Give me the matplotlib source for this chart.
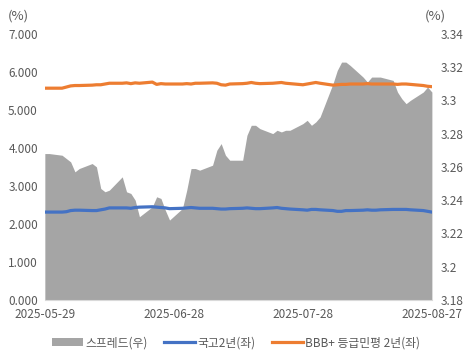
import numpy as np
import pandas as pd
import matplotlib
matplotlib.use('Agg')
import matplotlib.pyplot as plt
import matplotlib.dates as mdates
from matplotlib.ticker import FuncFormatter, MultipleLocator

plt.rcParams['font.family'] = ['Noto Sans CJK KR', 'DejaVu Sans']

# 영업일 (2025-05-29 ~ 2025-08-27)
dates = pd.bdate_range('2025-05-29', '2025-08-27')

spread = [3.268, 3.268, 3.267, 3.265, 3.263, 3.257, 3.259, 3.262, 3.260, 3.247,
          3.245, 3.246, 3.254, 3.245, 3.244, 3.240, 3.230, 3.236, 3.242, 3.241,
          3.234, 3.228, 3.235, 3.246, 3.259, 3.259, 3.258, 3.261, 3.270, 3.274,
          3.267, 3.264, 3.264, 3.279, 3.285, 3.285, 3.283, 3.280, 3.282, 3.281,
          3.282, 3.282, 3.286, 3.288, 3.285, 3.287, 3.290, 3.310, 3.318, 3.323,
          3.323, 3.321, 3.314, 3.311, 3.314, 3.314, 3.314, 3.312, 3.305, 3.301,
          3.298, 3.300, 3.305, 3.308, 3.305]

ktb2y = [2.31, 2.31, 2.31, 2.32, 2.35, 2.36, 2.36, 2.35, 2.35, 2.37,
         2.39, 2.42, 2.42, 2.42, 2.41, 2.43, 2.44, 2.45, 2.44, 2.43,
         2.42, 2.40, 2.41, 2.42, 2.43, 2.42, 2.41, 2.41, 2.40, 2.39,
         2.39, 2.40, 2.41, 2.42, 2.41, 2.40, 2.40, 2.42, 2.43, 2.41,
         2.40, 2.39, 2.37, 2.36, 2.38, 2.38, 2.37, 2.35, 2.33, 2.33,
         2.35, 2.35, 2.36, 2.37, 2.36, 2.36, 2.37, 2.38, 2.38, 2.38,
         2.38, 2.37, 2.35, 2.33, 2.31]

bbb2y = [5.57, 5.57, 5.57, 5.60, 5.63, 5.64, 5.64, 5.65, 5.66, 5.66,
         5.68, 5.70, 5.70, 5.71, 5.69, 5.71, 5.70, 5.73, 5.67, 5.69,
         5.68, 5.68, 5.68, 5.69, 5.68, 5.70, 5.70, 5.71, 5.70, 5.66,
         5.65, 5.68, 5.69, 5.70, 5.72, 5.70, 5.69, 5.70, 5.71, 5.72,
         5.70, 5.69, 5.66, 5.68, 5.70, 5.72, 5.70, 5.65, 5.66, 5.67,
         5.67, 5.68, 5.68, 5.69, 5.68, 5.68, 5.68, 5.68, 5.67, 5.68,
         5.68, 5.67, 5.64, 5.62, 5.61]

xticks = ['2025-05-29', '2025-06-28', '2025-07-28', '2025-08-27']

txt = '#595959'

fig = plt.figure(figsize=(4.72, 3.6), dpi=100)
ax = fig.add_subplot(111)
fig.subplots_adjust(left=0.095, right=0.915, top=0.906, bottom=0.167)
ax2 = ax.twinx()

# 스프레드 영역 (우축)
ax2.fill_between(dates, spread, 3.18, color='#A5A5A5', lw=0, label='스프레드(우)')
ax2.set_ylim(3.18, 3.34)
ax2.yaxis.set_major_locator(MultipleLocator(0.02))
ax2.yaxis.set_major_formatter(FuncFormatter(lambda v, p: f'{round(v, 2):g}'))

# 금리 (좌축)
ax.plot(dates, ktb2y, color='#4472C4', lw=2.3, label='국고2년(좌)')
ax.plot(dates, bbb2y, color='#ED7D31', lw=2.3, label='BBB+ 등급민평 2년(좌)')
ax.set_ylim(0, 7)
ax.yaxis.set_major_locator(MultipleLocator(1))
ax.yaxis.set_major_formatter(FuncFormatter(lambda v, p: f'{v:.3f}'))

ax.set_zorder(ax2.get_zorder() + 1)
ax.patch.set_visible(False)

ax.set_xlim(dates[0], dates[-1])
ax.set_xticks(pd.to_datetime(xticks))
ax.xaxis.set_major_formatter(mdates.DateFormatter('%Y-%m-%d'))

for a in (ax, ax2):
    for s in a.spines.values():
        s.set_visible(False)
    a.tick_params(length=0, labelsize=8.5, colors=txt)
ax.spines['bottom'].set_visible(True)
ax.spines['bottom'].set_color('#D9D9D9')
ax.tick_params(axis='x', pad=6)
ax.tick_params(axis='y', pad=5)
ax2.tick_params(axis='y', pad=6)

fig.text(0.017, 0.955, '(%)', fontsize=9.5, color=txt, ha='left', va='center')
fig.text(0.9, 0.955, '(%)', fontsize=9.5, color=txt, ha='left', va='center')

h1, l1 = ax2.get_legend_handles_labels()
h2, l2 = ax.get_legend_handles_labels()
fig.legend(h1 + h2, l1 + l2, loc='lower center', bbox_to_anchor=(0.5, 0.0),
           ncol=3, frameon=False, fontsize=8.5, labelcolor=txt,
           handlelength=2.6, handletextpad=0.2, columnspacing=1.4)

fig.savefig('out.png', dpi=100)
